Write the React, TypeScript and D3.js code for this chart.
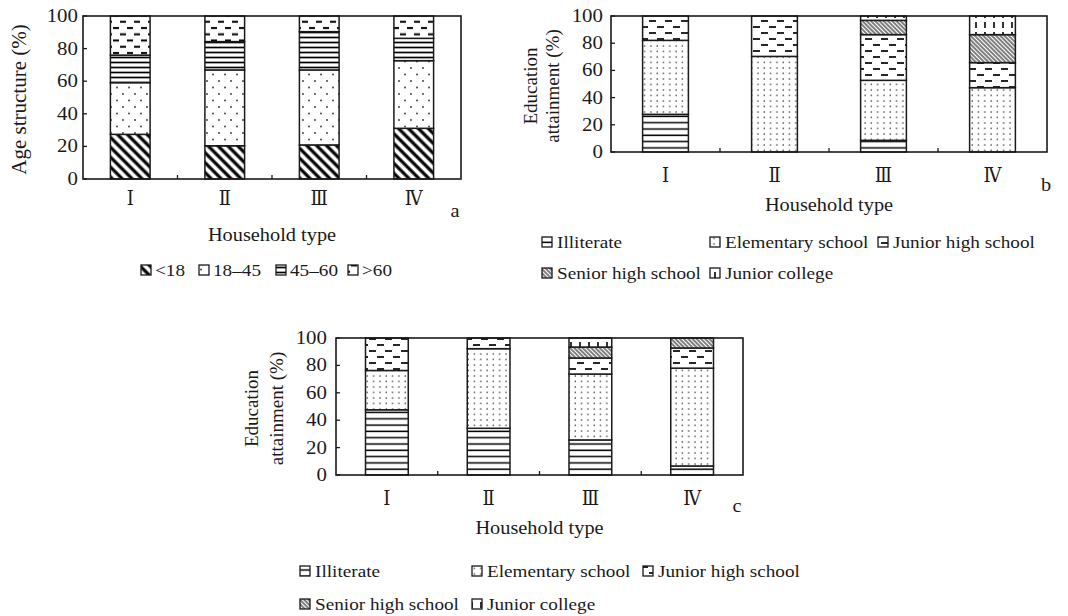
import * as d3 from 'd3'

const CATS = ['Ⅰ', 'Ⅱ', 'Ⅲ', 'Ⅳ']
const Y_TICKS = [0, 20, 40, 60, 80, 100]

// panel a: age structure (%)
const AGE_KEYS = ['<18', '18–45', '45–60', '>60']
const AGE_LT18 = [27.4, 20.4, 20.9, 31.1]
const AGE_18_45 = [31.7, 46.5, 46.0, 41.5]
const AGE_45_60 = [16.9, 17.4, 23.5, 13.7]
const AGE_GT60 = [24.0, 15.7, 9.6, 13.7]

const EDU_KEYS = ['Illiterate', 'Elementary school', 'Junior high school', 'Senior high school', 'Junior college']

// panel b: education attainment (%)
const B_ILLITERATE = [27.7, 0, 8.6, 0]
const B_ELEMENTARY = [54.4, 70.3, 44.1, 47.3]
const B_JUNIOR_HIGH = [17.9, 29.7, 33.6, 18.4]
const B_SENIOR_HIGH = [0, 0, 10.5, 20.6]
const B_JUNIOR_COLLEGE = [0, 0, 3.2, 13.7]

// panel c: education attainment (%)
const C_ILLITERATE = [47.6, 34.1, 25.6, 6.6]
const C_ELEMENTARY = [28.7, 58.1, 48.1, 71.4]
const C_JUNIOR_HIGH = [23.7, 7.8, 11.7, 14.7]
const C_SENIOR_HIGH = [0, 0, 8.0, 7.3]
const C_JUNIOR_COLLEGE = [0, 0, 6.6, 0]

const AGE_PATS = ['pDiagThick', 'pDotsSparse', 'pHLinesTight', 'pDashes']
const EDU_PATS = ['pHLines', 'pDotsDense', 'pDashesB', 'pDiagThin', 'pVDash']

const FONT = '"Liberation Serif", "Times New Roman", serif'
const ROMAN_FONT = '"DejaVu Serif", "Liberation Serif", serif'
const SX = 1.13
const INK = '#1a1a1a'

function buildRows(keys: string[], cols: number[][]) {
  return CATS.map((c, i) => {
    const r: any = { cat: c }
    keys.forEach((k, j) => { r[k] = cols[j][i] })
    return r
  })
}

function T({ x, y, anchor = 'middle', size = 18, rotate = 0, baseline, family = FONT, sx = SX, children }: any) {
  return (
    <text
      transform={`translate(${x},${y}) scale(${sx},1)${rotate ? ` rotate(${rotate})` : ''}`}
      textAnchor={anchor}
      fontSize={size}
      fontFamily={family}
      dominantBaseline={baseline}
      fill={INK}
    >{children}</text>
  )
}

function Panel({ keys, cols, pats, x0, x1, y0, y1, tickLabelX, catY, tag, tagX, tagY, titleY, yLabels, yLabelSize }: any) {
  const rows = buildRows(keys, cols)
  const x = d3.scaleBand().domain(CATS).range([x0, x1]).paddingInner(0.58).paddingOuter(0.29)
  const y = d3.scaleLinear().domain([0, 100]).range([y1, y0])
  const series = d3.stack().keys(keys)(rows)
  const step = x.step()
  const bounds = CATS.slice(1).map(c => (x(c) as number) - step * 0.29)

  return (
    <g>
      {series.map((s, si) => (
        <g key={s.key}>
          {s.map((d, i) => d[1] - d[0] > 0.01 && (
            <rect
              key={i}
              x={x(CATS[i])}
              y={y(d[1])}
              width={x.bandwidth()}
              height={y(d[0]) - y(d[1])}
              fill={`url(#${pats[si]})`}
              stroke={INK}
              strokeWidth={1.5}
            />
          ))}
        </g>
      ))}
      <rect x={x0} y={y0} width={x1 - x0} height={y1 - y0} fill="none" stroke={INK} strokeWidth={1.6} />
      {Y_TICKS.map(t => (
        <g key={t}>
          <line x1={x0} x2={x0 + 4} y1={y(t)} y2={y(t)} stroke={INK} strokeWidth={1.3} />
          <T x={tickLabelX} y={y(t) + 6} anchor="end" size={18.5}>{t}</T>
        </g>
      ))}
      {bounds.map((b, i) => (
        <line key={i} x1={b} x2={b} y1={y1} y2={y1 - 4} stroke={INK} strokeWidth={1.3} />
      ))}
      {CATS.map(c => (
        <T key={c} x={(x(c) as number) + x.bandwidth() / 2} y={catY} size={20} family={ROMAN_FONT} sx={0.9}>{c}</T>
      ))}
      <T x={tagX} y={tagY}>{tag}</T>
      <T x={(x0 + x1) / 2} y={titleY}>Household type</T>
      {yLabels.map((l: any) => (
        <T key={l.text} x={l.x} y={(y0 + y1) / 2 + 2} rotate={-90} baseline="central" size={yLabelSize} sx={1}>{l.text}</T>
      ))}
    </g>
  )
}

function Legend({ items, pats, xs, ys, textOff = 5 }: any) {
  return (
    <g>
      {items.map((k: string, i: number) => (
        <g key={k}>
          <rect x={xs[i]} y={ys[i] - 11} width={10} height={10} fill={`url(#${pats[i]})`} stroke={INK} strokeWidth={1.3} />
          <T x={xs[i] + 10 + textOff} y={ys[i]} anchor="start" size={17}>{k}</T>
        </g>
      ))}
    </g>
  )
}

export default function App() {
  return (
    <svg width={1068} height={616} style={{ position: 'absolute', left: 0, top: 0, background: '#fff', fontFamily: FONT }}>
      <defs>
        <pattern id="pDiagThick" patternUnits="userSpaceOnUse" width="7" height="7" patternTransform="rotate(-45)">
          <rect width="7" height="7" fill="#fff" />
          <line x1="2" y1="0" x2="2" y2="7" stroke="#000" strokeWidth="3.2" />
        </pattern>
        <pattern id="pDotsSparse" patternUnits="userSpaceOnUse" width="12" height="13">
          <rect width="12" height="13" fill="#fff" />
          <circle cx="3" cy="3" r="0.9" fill="#333" />
          <circle cx="9" cy="9.5" r="0.9" fill="#333" />
        </pattern>
        <pattern id="pHLinesTight" patternUnits="userSpaceOnUse" width="8" height="5">
          <rect width="8" height="5" fill="#fff" />
          <line x1="0" y1="2.5" x2="8" y2="2.5" stroke="#000" strokeWidth="1.7" />
        </pattern>
        <pattern id="pDashes" patternUnits="userSpaceOnUse" width="14" height="12.5">
          <rect width="14" height="12.5" fill="#fff" />
          <line x1="1" y1="3" x2="7" y2="3" stroke="#000" strokeWidth="2" />
          <line x1="8" y1="9.3" x2="14" y2="9.3" stroke="#000" strokeWidth="2" />
        </pattern>
        <pattern id="pHLines" patternUnits="userSpaceOnUse" width="8" height="6.3">
          <rect width="8" height="6.3" fill="#fff" />
          <line x1="0" y1="3" x2="8" y2="3" stroke="#000" strokeWidth="1.5" />
        </pattern>
        <pattern id="pDotsDense" patternUnits="userSpaceOnUse" width="6.3" height="5.5">
          <rect width="6.3" height="5.5" fill="#fff" />
          <circle cx="2" cy="2" r="0.75" fill="#333" />
        </pattern>
        <pattern id="pDashesB" patternUnits="userSpaceOnUse" width="16" height="12">
          <rect width="16" height="12" fill="#fff" />
          <line x1="1" y1="3" x2="8" y2="3" stroke="#000" strokeWidth="1.7" />
          <line x1="9" y1="9" x2="16" y2="9" stroke="#000" strokeWidth="1.7" />
        </pattern>
        <pattern id="pDiagThin" patternUnits="userSpaceOnUse" width="3" height="3" patternTransform="rotate(-45)">
          <rect width="3" height="3" fill="#fff" />
          <line x1="1" y1="0" x2="1" y2="3" stroke="#000" strokeWidth="1" />
        </pattern>
        <pattern id="pVDash" patternUnits="userSpaceOnUse" width="9" height="10">
          <rect width="9" height="10" fill="#fff" />
          <line x1="4" y1="2" x2="4" y2="8" stroke="#000" strokeWidth="1.6" />
        </pattern>
      </defs>

      <Panel
        keys={AGE_KEYS}
        cols={[AGE_LT18, AGE_18_45, AGE_45_60, AGE_GT60]}
        pats={AGE_PATS}
        x0={83} x1={461} y0={16} y1={179}
        tickLabelX={78} catY={205}
        tag="a" tagX={455} tagY={217}
        titleY={241}
        yLabels={[{ text: 'Age structure (%)', x: 19 }]}
        yLabelSize={21}
      />
      <Legend items={AGE_KEYS} pats={AGE_PATS} xs={[141, 199, 276, 348]} ys={[276, 276, 276, 276]} textOff={4} />

      <Panel
        keys={EDU_KEYS}
        cols={[B_ILLITERATE, B_ELEMENTARY, B_JUNIOR_HIGH, B_SENIOR_HIGH, B_JUNIOR_COLLEGE]}
        pats={EDU_PATS}
        x0={611} x1={1047} y0={16} y1={152}
        tickLabelX={603} catY={182}
        tag="b" tagX={1046} tagY={191}
        titleY={211}
        yLabels={[{ text: 'Education', x: 530 }, { text: 'attainment (%)', x: 552 }]}
        yLabelSize={19}
      />
      <Legend items={EDU_KEYS} pats={EDU_PATS} xs={[542, 710, 878, 542, 710]} ys={[248, 248, 248, 279, 279]} />

      <Panel
        keys={EDU_KEYS}
        cols={[C_ILLITERATE, C_ELEMENTARY, C_JUNIOR_HIGH, C_SENIOR_HIGH, C_JUNIOR_COLLEGE]}
        pats={EDU_PATS}
        x0={336} x1={743} y0={338} y1={475}
        tickLabelX={327} catY={505}
        tag="c" tagX={737} tagY={512}
        titleY={534}
        yLabels={[{ text: 'Education', x: 251 }, { text: 'attainment (%)', x: 276 }]}
        yLabelSize={19}
      />
      <Legend items={EDU_KEYS} pats={EDU_PATS} xs={[300, 472, 643, 300, 472]} ys={[577, 577, 577, 610, 610]} />
    </svg>
  )
}
